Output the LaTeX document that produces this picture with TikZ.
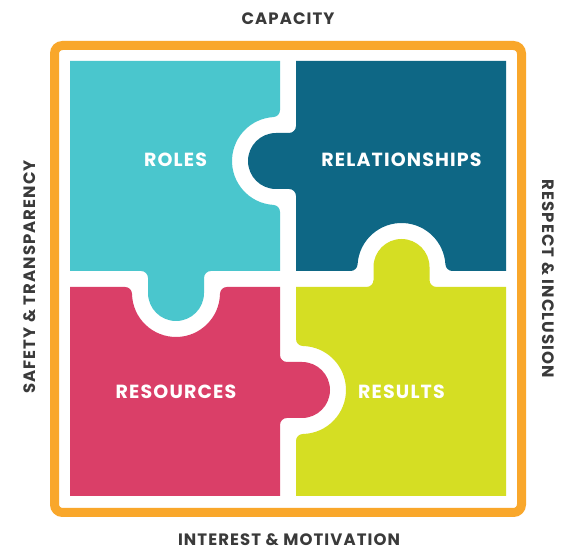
\documentclass[tikz,border=0pt]{standalone}
\usepackage{fontspec}
\newfontfamily\popP[LetterSpace=6]{Poppins}
\newfontfamily\popS[LetterSpace=6.5]{Poppins}
\definecolor{tealA}{HTML}{4AC6CD}
\definecolor{blueA}{HTML}{0E6785}
\definecolor{redA}{HTML}{DA3F68}
\definecolor{limeA}{HTML}{D5DE23}
\definecolor{orangeA}{HTML}{F9A72B}
\definecolor{greyA}{HTML}{3A3A3A}
\begin{document}
\begin{tikzpicture}[x=1pt,y=1pt,
  plabel/.style={font=\popP\bfseries\fontsize{19}{21}\selectfont, text=white, inner sep=0pt},
  slabel/.style={font=\popS\bfseries\fontsize{16.5}{18}\selectfont, text=greyA, inner sep=0pt}]
\useasboundingbox (0,0) rectangle (571,551);
\fill[white] (0,0) rectangle (571,551);
% ROLES
\fill[tealA] (70,490) -- (70,280) -- (141,280)
 arc[start angle=90, end angle=0, radius=7] -- (148,258)
 arc[start angle=180, end angle=360, radius=28] -- (204,273)
 arc[start angle=180, end angle=90, radius=7] -- (280,280) -- (280,339.088)
 arc[start angle=0, end angle=86.628, radius=7]
 arc[start angle=266.628, end angle=93.372, radius=44]
 arc[start angle=273.372, end angle=360, radius=7] -- (280,490) -- cycle;
% RELATIONSHIPS
\fill[blueA] (296,490) -- (296,425)
 arc[start angle=0, end angle=-90, radius=7] -- (276,418)
 arc[start angle=90, end angle=270, radius=28] -- (289,362)
 arc[start angle=90, end angle=0, radius=7] -- (296,280) -- (350.588,280)
 arc[start angle=-90, end angle=-3.372, radius=7]
 arc[start angle=176.628, end angle=3.372, radius=44]
 arc[start angle=183.372, end angle=270, radius=7] -- (506,280) -- (506,490) -- cycle;
% RESOURCES
\fill[redA] (70,264) -- (125.01,264)
 arc[start angle=90, end angle=1.124, radius=7]
 arc[start angle=181.124, end angle=358.876, radius=44]
 arc[start angle=178.876, end angle=90, radius=7] -- (280,264) -- (280,196)
 arc[start angle=180, end angle=270, radius=7] -- (302,189)
 arc[start angle=90, end angle=-90, radius=28] -- (287,133)
 arc[start angle=90, end angle=180, radius=7] -- (280,55) -- (70,55) -- cycle;
% RESULTS
\fill[limeA] (296,264) -- (366.5,264)
 arc[start angle=-90, end angle=0, radius=7] -- (373.5,284)
 arc[start angle=180, end angle=0, radius=28] -- (429.5,271)
 arc[start angle=180, end angle=270, radius=7] -- (506,264) -- (506,55) -- (296,55) -- (296,110.01)
 arc[start angle=180, end angle=91.124, radius=7]
 arc[start angle=-88.876, end angle=88.876, radius=44]
 arc[start angle=268.876, end angle=180, radius=7] -- cycle;
% frame
\draw[orangeA, line width=9pt, rounded corners=8pt] (54.5,38.5) rectangle (521.5,505.5);
% piece labels
\node[plabel] (roles) at (175.5,391.5) {ROLES};
\node[plabel] (rel) at (401.5,391) {RELATIONSHIPS};
\node[plabel] (res) at (176,159.5) {RESOURCES};
\node[plabel] (results) at (401.5,159.5) {RESULTS};
% side labels
\node[slabel] (cap) at (288,532) {CAPACITY};
\node[slabel] (int) at (289,11.5) {INTEREST \& MOTIVATION};
\node[slabel, rotate=90] (saf) at (29.5,274) {SAFETY \& TRANSPARENCY};
\node[slabel, rotate=-90] (resp) at (548,272) {RESPECT \& INCLUSION};
\end{tikzpicture}
\end{document}
